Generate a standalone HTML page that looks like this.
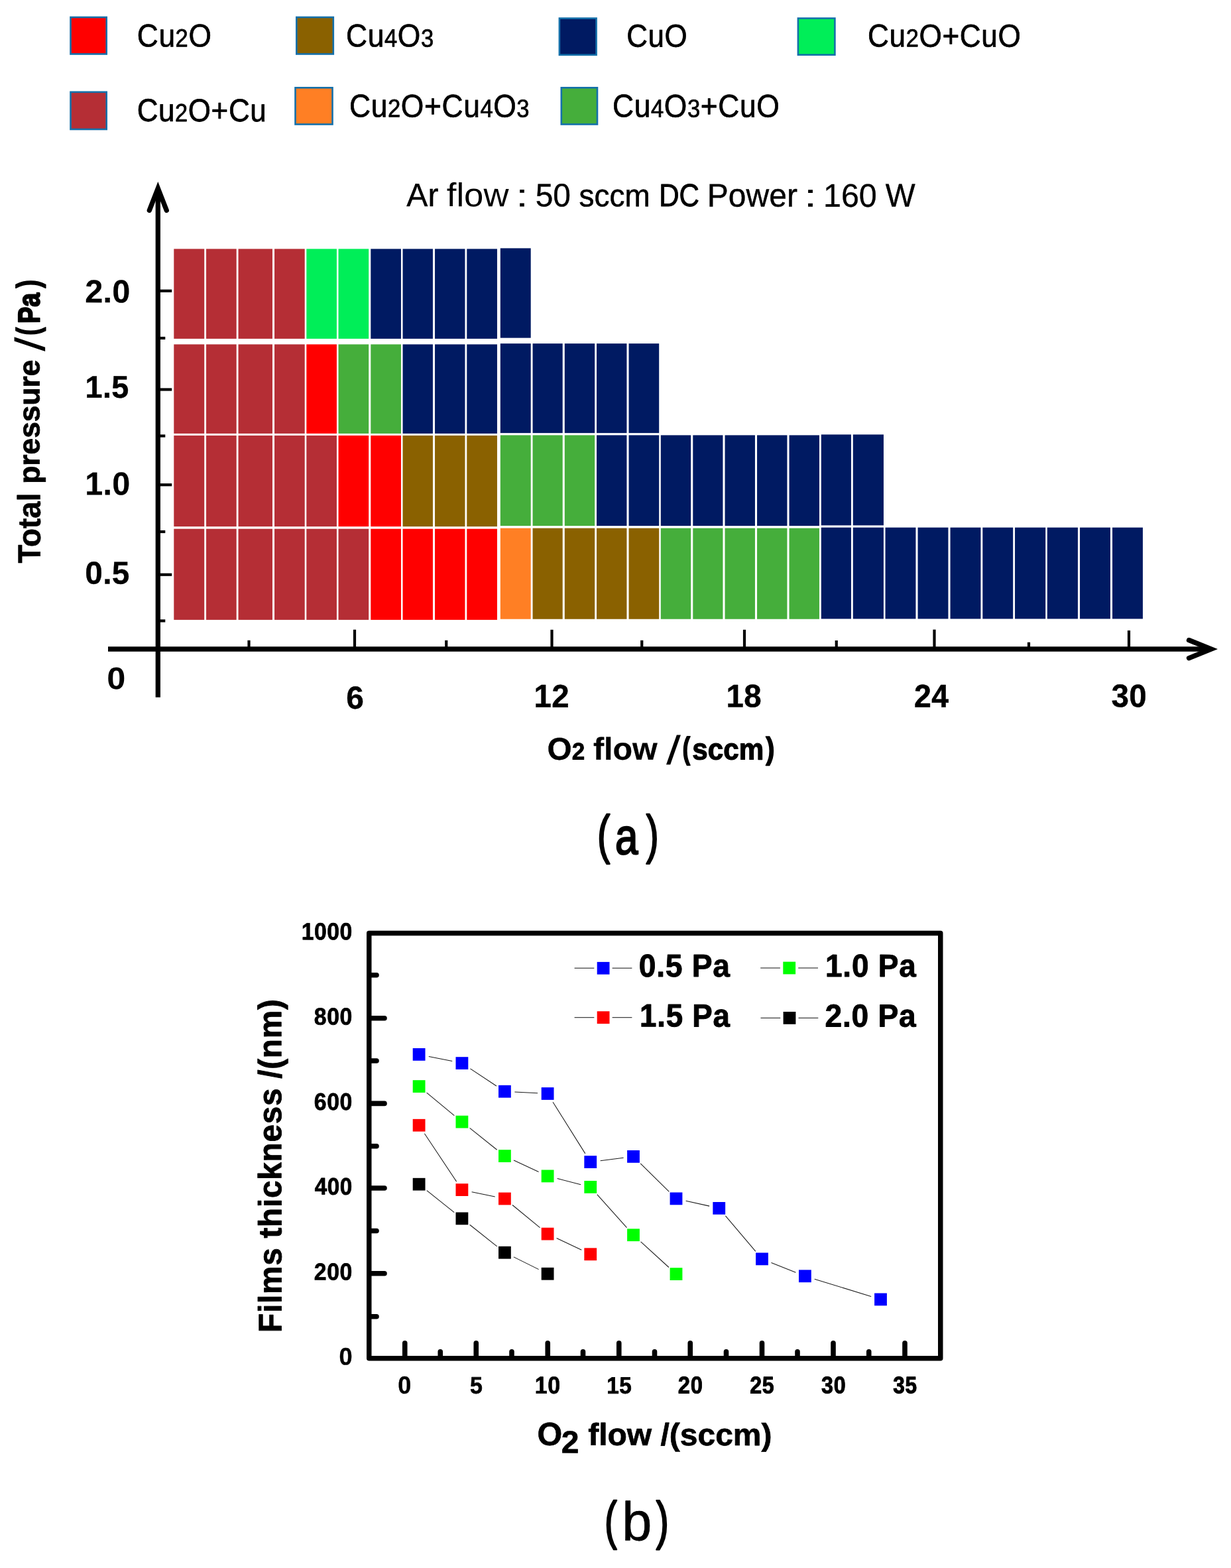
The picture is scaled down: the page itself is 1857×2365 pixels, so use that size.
<!DOCTYPE html>
<html lang="en"><head><meta charset="utf-8"><title>Phase diagram and film thickness</title>
<style>html,body{margin:0;padding:0;background:#fff}body{width:1857px;height:2365px}svg{display:block}</style></head>
<body>
<svg width="1857" height="2365" viewBox="0 0 1857 2365" role="img" aria-label="Phase map of copper oxide films and film thickness versus oxygen flow" font-family='"Liberation Sans", sans-serif' fill="#000" text-rendering="geometricPrecision">
<rect width="1857" height="2365" fill="#fff"/>
<g id="legend-a">
<rect x="106.50" y="26.00" width="54.20" height="55.50" fill="#ff0000" stroke="#1470aa" stroke-width="2.6"/>
<rect x="447.30" y="26.00" width="55.50" height="55.50" fill="#8a6100" stroke="#1470aa" stroke-width="2.6"/>
<rect x="843.90" y="27.60" width="55.70" height="55.20" fill="#001a62" stroke="#1470aa" stroke-width="2.6"/>
<rect x="1203.90" y="27.60" width="55.50" height="55.10" fill="#00ee58" stroke="#1470aa" stroke-width="2.6"/>
<rect x="106.50" y="138.80" width="54.20" height="56.20" fill="#b52e35" stroke="#1470aa" stroke-width="2.6"/>
<rect x="445.50" y="132.30" width="56.00" height="55.20" fill="#ff7f24" stroke="#1470aa" stroke-width="2.6"/>
<rect x="846.80" y="132.30" width="54.20" height="55.20" fill="#45ae3b" stroke="#1470aa" stroke-width="2.6"/>
</g>
<g id="phase-map" shape-rendering="geometricPrecision">
<rect x="262.30" y="375.40" width="45.90" height="135.50" fill="#b52e35"/>
<rect x="311.05" y="375.40" width="45.65" height="135.50" fill="#b52e35"/>
<rect x="359.55" y="375.40" width="51.40" height="135.50" fill="#b52e35"/>
<rect x="414.05" y="375.40" width="45.65" height="135.50" fill="#b52e35"/>
<rect x="462.30" y="375.40" width="45.65" height="135.50" fill="#00ee58"/>
<rect x="510.55" y="375.40" width="45.65" height="135.50" fill="#00ee58"/>
<rect x="559.30" y="375.40" width="45.65" height="135.50" fill="#001a62"/>
<rect x="607.55" y="375.40" width="45.40" height="135.50" fill="#001a62"/>
<rect x="656.05" y="375.40" width="45.40" height="135.50" fill="#001a62"/>
<rect x="704.30" y="375.40" width="45.65" height="135.50" fill="#001a62"/>
<rect x="754.80" y="374.40" width="45.90" height="135.25" fill="#001a62"/>
<rect x="262.30" y="519.40" width="45.90" height="134.50" fill="#b52e35"/>
<rect x="311.05" y="519.40" width="45.65" height="134.50" fill="#b52e35"/>
<rect x="359.55" y="519.40" width="51.40" height="134.50" fill="#b52e35"/>
<rect x="414.05" y="519.40" width="45.65" height="134.50" fill="#b52e35"/>
<rect x="462.30" y="519.40" width="45.65" height="134.50" fill="#ff0000"/>
<rect x="510.55" y="519.40" width="45.65" height="134.50" fill="#45ae3b"/>
<rect x="559.30" y="519.40" width="45.65" height="134.50" fill="#45ae3b"/>
<rect x="607.55" y="519.40" width="45.40" height="134.50" fill="#001a62"/>
<rect x="656.05" y="519.40" width="45.40" height="134.50" fill="#001a62"/>
<rect x="704.30" y="519.40" width="45.65" height="134.50" fill="#001a62"/>
<rect x="754.80" y="518.15" width="45.90" height="135.00" fill="#001a62"/>
<rect x="803.55" y="518.15" width="45.15" height="135.00" fill="#001a62"/>
<rect x="851.80" y="518.15" width="45.40" height="135.00" fill="#001a62"/>
<rect x="900.05" y="518.15" width="45.40" height="135.00" fill="#001a62"/>
<rect x="948.55" y="518.15" width="45.65" height="135.00" fill="#001a62"/>
<rect x="262.30" y="656.90" width="45.90" height="137.25" fill="#b52e35"/>
<rect x="311.05" y="656.90" width="45.65" height="137.25" fill="#b52e35"/>
<rect x="359.55" y="656.90" width="51.40" height="137.25" fill="#b52e35"/>
<rect x="414.05" y="656.90" width="45.65" height="137.25" fill="#b52e35"/>
<rect x="462.30" y="656.90" width="45.65" height="137.25" fill="#b52e35"/>
<rect x="510.55" y="656.90" width="45.65" height="137.25" fill="#ff0000"/>
<rect x="559.30" y="656.90" width="45.65" height="137.25" fill="#ff0000"/>
<rect x="607.55" y="656.90" width="45.40" height="137.25" fill="#8a6100"/>
<rect x="656.05" y="656.90" width="45.40" height="137.25" fill="#8a6100"/>
<rect x="704.30" y="656.90" width="45.65" height="137.25" fill="#8a6100"/>
<rect x="754.80" y="656.40" width="45.90" height="136.75" fill="#45ae3b"/>
<rect x="803.55" y="656.40" width="45.15" height="136.75" fill="#45ae3b"/>
<rect x="851.80" y="656.40" width="45.40" height="136.75" fill="#45ae3b"/>
<rect x="900.05" y="656.40" width="45.40" height="136.75" fill="#001a62"/>
<rect x="948.55" y="656.40" width="45.65" height="136.75" fill="#001a62"/>
<rect x="996.80" y="656.40" width="45.40" height="136.75" fill="#001a62"/>
<rect x="1045.30" y="656.40" width="45.15" height="136.75" fill="#001a62"/>
<rect x="1093.55" y="656.40" width="45.40" height="136.75" fill="#001a62"/>
<rect x="1142.05" y="656.40" width="45.40" height="136.75" fill="#001a62"/>
<rect x="1190.55" y="656.40" width="45.40" height="136.75" fill="#001a62"/>
<rect x="1238.80" y="655.40" width="45.15" height="137.00" fill="#001a62"/>
<rect x="1286.80" y="655.40" width="46.15" height="137.00" fill="#001a62"/>
<rect x="262.30" y="797.65" width="45.90" height="137.25" fill="#b52e35"/>
<rect x="311.05" y="797.65" width="45.65" height="137.25" fill="#b52e35"/>
<rect x="359.55" y="797.65" width="51.40" height="137.25" fill="#b52e35"/>
<rect x="414.05" y="797.65" width="45.65" height="137.25" fill="#b52e35"/>
<rect x="462.30" y="797.65" width="45.65" height="137.25" fill="#b52e35"/>
<rect x="510.55" y="797.65" width="45.65" height="137.25" fill="#b52e35"/>
<rect x="559.30" y="797.65" width="45.65" height="137.25" fill="#ff0000"/>
<rect x="607.55" y="797.65" width="45.40" height="137.25" fill="#ff0000"/>
<rect x="656.05" y="797.65" width="45.40" height="137.25" fill="#ff0000"/>
<rect x="704.30" y="797.65" width="45.65" height="137.25" fill="#ff0000"/>
<rect x="754.80" y="796.65" width="45.90" height="137.10" fill="#ff7f24"/>
<rect x="803.55" y="796.65" width="45.15" height="137.10" fill="#8a6100"/>
<rect x="851.80" y="796.65" width="45.40" height="137.10" fill="#8a6100"/>
<rect x="900.05" y="796.65" width="45.40" height="137.10" fill="#8a6100"/>
<rect x="948.55" y="796.65" width="45.65" height="137.10" fill="#8a6100"/>
<rect x="996.80" y="796.65" width="45.40" height="137.10" fill="#45ae3b"/>
<rect x="1045.30" y="796.65" width="45.15" height="137.10" fill="#45ae3b"/>
<rect x="1093.55" y="796.65" width="45.40" height="137.10" fill="#45ae3b"/>
<rect x="1142.05" y="796.65" width="45.40" height="137.10" fill="#45ae3b"/>
<rect x="1190.55" y="796.65" width="45.40" height="137.10" fill="#45ae3b"/>
<rect x="1238.80" y="795.65" width="45.15" height="137.75" fill="#001a62"/>
<rect x="1286.80" y="795.65" width="46.15" height="137.75" fill="#001a62"/>
<rect x="1335.55" y="795.65" width="45.90" height="137.75" fill="#001a62"/>
<rect x="1384.55" y="795.65" width="45.90" height="137.75" fill="#001a62"/>
<rect x="1433.55" y="795.65" width="45.90" height="137.75" fill="#001a62"/>
<rect x="1482.30" y="795.65" width="45.90" height="137.75" fill="#001a62"/>
<rect x="1531.05" y="795.65" width="46.15" height="137.75" fill="#001a62"/>
<rect x="1579.80" y="795.65" width="46.15" height="137.75" fill="#001a62"/>
<rect x="1629.05" y="795.65" width="45.90" height="137.75" fill="#001a62"/>
<rect x="1678.05" y="795.65" width="45.90" height="137.75" fill="#001a62"/>
</g>
<g id="axes-a" stroke="#000" fill="none">
<line x1="238.30" y1="286.00" x2="238.30" y2="1051.75" stroke-width="7.30"/>
<line x1="163.00" y1="979.00" x2="1825.00" y2="979.00" stroke-width="7.30"/>
<polyline points="225.30,317.30 238.30,284.00 251.30,317.30" stroke-width="7.30" stroke-linecap="round" stroke-linejoin="miter" stroke-miterlimit="10"/>
<polyline points="1793.60,965.60 1827.00,979.00 1793.60,992.60" stroke-width="7.50" stroke-linecap="round" stroke-linejoin="miter" stroke-miterlimit="10"/>
<line x1="238.30" y1="438.75" x2="259.20" y2="438.75" stroke-width="4.20"/>
<line x1="238.30" y1="587.50" x2="259.20" y2="587.50" stroke-width="4.20"/>
<line x1="238.30" y1="731.25" x2="259.20" y2="731.25" stroke-width="4.20"/>
<line x1="238.30" y1="866.75" x2="259.20" y2="866.75" stroke-width="4.20"/>
<line x1="238.30" y1="510.00" x2="249.30" y2="510.00" stroke-width="4.20"/>
<line x1="238.30" y1="657.50" x2="249.30" y2="657.50" stroke-width="4.20"/>
<line x1="238.30" y1="802.00" x2="249.30" y2="802.00" stroke-width="4.20"/>
<line x1="238.30" y1="936.40" x2="249.30" y2="936.40" stroke-width="4.20"/>
<line x1="535.00" y1="949.70" x2="535.00" y2="979.00" stroke-width="4.20"/>
<line x1="832.50" y1="949.80" x2="832.50" y2="979.00" stroke-width="4.20"/>
<line x1="1123.00" y1="949.80" x2="1123.00" y2="979.00" stroke-width="4.20"/>
<line x1="1409.50" y1="949.60" x2="1409.50" y2="979.00" stroke-width="4.20"/>
<line x1="1703.00" y1="950.90" x2="1703.00" y2="979.00" stroke-width="4.20"/>
<line x1="375.50" y1="965.80" x2="375.50" y2="979.00" stroke-width="4.20"/>
<line x1="673.25" y1="965.80" x2="673.25" y2="979.00" stroke-width="4.20"/>
<line x1="968.25" y1="965.80" x2="968.25" y2="979.00" stroke-width="4.20"/>
<line x1="1261.75" y1="966.00" x2="1261.75" y2="979.00" stroke-width="4.20"/>
<line x1="1552.00" y1="968.70" x2="1552.00" y2="979.00" stroke-width="4.20"/>
</g>
<g id="chart-b">
<rect x="556.75" y="1407.50" width="862.00" height="641.25" fill="none" stroke="#000" stroke-width="7.50" stroke-linejoin="round"/>
<g stroke="#000" stroke-width="7.60" stroke-linecap="round">
<line x1="557.35" y1="1535.75" x2="580.00" y2="1535.75"/>
<line x1="557.35" y1="1664.40" x2="580.00" y2="1664.40"/>
<line x1="557.35" y1="1792.00" x2="580.00" y2="1792.00"/>
<line x1="557.35" y1="1920.75" x2="580.00" y2="1920.75"/>
<line x1="557.35" y1="1470.75" x2="568.00" y2="1470.75"/>
<line x1="557.35" y1="1600.00" x2="568.00" y2="1600.00"/>
<line x1="557.35" y1="1728.75" x2="568.00" y2="1728.75"/>
<line x1="557.35" y1="1856.50" x2="568.00" y2="1856.50"/>
<line x1="557.35" y1="1985.75" x2="568.00" y2="1985.75"/>
<line x1="610.75" y1="2048.15" x2="610.75" y2="2025.80"/>
<line x1="718.25" y1="2048.15" x2="718.25" y2="2025.80"/>
<line x1="826.25" y1="2048.15" x2="826.25" y2="2025.80"/>
<line x1="933.75" y1="2048.15" x2="933.75" y2="2025.80"/>
<line x1="1041.25" y1="2048.15" x2="1041.25" y2="2025.80"/>
<line x1="1149.50" y1="2048.15" x2="1149.50" y2="2025.80"/>
<line x1="1257.00" y1="2048.15" x2="1257.00" y2="2025.80"/>
<line x1="1365.00" y1="2048.15" x2="1365.00" y2="2025.80"/>
<line x1="664.25" y1="2048.15" x2="664.25" y2="2038.80"/>
<line x1="772.00" y1="2048.15" x2="772.00" y2="2038.80"/>
<line x1="879.50" y1="2048.15" x2="879.50" y2="2038.80"/>
<line x1="987.50" y1="2048.15" x2="987.50" y2="2038.80"/>
<line x1="1095.50" y1="2048.15" x2="1095.50" y2="2038.80"/>
<line x1="1203.00" y1="2048.15" x2="1203.00" y2="2038.80"/>
<line x1="1310.75" y1="2048.15" x2="1310.75" y2="2038.80"/>
</g>
<g stroke="#1a1a1a" stroke-width="1.05" fill="none">
<line x1="643.83" y1="1795.55" x2="685.17" y2="1828.55"/>
<line x1="708.64" y1="1847.24" x2="749.66" y2="1879.91"/>
<line x1="774.85" y1="1895.90" x2="812.65" y2="1914.60"/>
<line x1="640.41" y1="1709.74" x2="688.59" y2="1782.11"/>
<line x1="711.59" y1="1797.65" x2="746.71" y2="1804.95"/>
<line x1="772.99" y1="1817.52" x2="814.51" y2="1851.58"/>
<line x1="839.65" y1="1867.53" x2="877.20" y2="1885.32"/>
<line x1="643.67" y1="1648.15" x2="685.33" y2="1682.55"/>
<line x1="708.62" y1="1701.46" x2="749.68" y2="1734.24"/>
<line x1="774.98" y1="1749.96" x2="812.52" y2="1767.54"/>
<line x1="840.63" y1="1777.61" x2="876.22" y2="1786.69"/>
<line x1="900.75" y1="1801.58" x2="945.50" y2="1851.57"/>
<line x1="966.58" y1="1872.86" x2="1008.92" y2="1911.49"/>
<line x1="646.80" y1="1593.39" x2="682.20" y2="1600.61"/>
<line x1="709.41" y1="1611.87" x2="748.89" y2="1637.98"/>
<line x1="776.38" y1="1647.00" x2="811.12" y2="1648.75"/>
<line x1="834.07" y1="1662.21" x2="882.78" y2="1739.89"/>
<line x1="905.63" y1="1750.72" x2="940.62" y2="1746.28"/>
<line x1="966.19" y1="1754.92" x2="1009.31" y2="1797.38"/>
<line x1="1034.64" y1="1811.18" x2="1070.11" y2="1819.12"/>
<line x1="1094.44" y1="1833.85" x2="1139.81" y2="1887.45"/>
<line x1="1163.44" y1="1904.45" x2="1200.46" y2="1919.20"/>
<line x1="1228.74" y1="1929.17" x2="1314.16" y2="1955.48"/>
<line x1="866.60" y1="1460.20" x2="896.30" y2="1460.20"/>
<line x1="923.60" y1="1460.20" x2="953.40" y2="1460.20"/>
<line x1="1147.20" y1="1460.00" x2="1176.90" y2="1460.00"/>
<line x1="1204.20" y1="1460.00" x2="1234.00" y2="1460.00"/>
<line x1="866.60" y1="1534.70" x2="896.30" y2="1534.70"/>
<line x1="923.60" y1="1534.70" x2="953.40" y2="1534.70"/>
<line x1="1147.50" y1="1535.40" x2="1177.20" y2="1535.40"/>
<line x1="1204.50" y1="1535.40" x2="1234.30" y2="1535.40"/>
</g>
<rect x="622.70" y="1776.80" width="18.80" height="18.80" fill="#000000"/>
<rect x="687.50" y="1828.50" width="18.80" height="18.80" fill="#000000"/>
<rect x="752.00" y="1879.85" width="18.80" height="18.80" fill="#000000"/>
<rect x="816.70" y="1911.85" width="18.80" height="18.80" fill="#000000"/>
<rect x="622.70" y="1687.85" width="18.80" height="18.80" fill="#ff0000"/>
<rect x="687.50" y="1785.20" width="18.80" height="18.80" fill="#ff0000"/>
<rect x="752.00" y="1798.60" width="18.80" height="18.80" fill="#ff0000"/>
<rect x="816.70" y="1851.70" width="18.80" height="18.80" fill="#ff0000"/>
<rect x="881.35" y="1882.35" width="18.80" height="18.80" fill="#ff0000"/>
<rect x="622.70" y="1629.20" width="18.80" height="18.80" fill="#00ff00"/>
<rect x="687.50" y="1682.70" width="18.80" height="18.80" fill="#00ff00"/>
<rect x="752.00" y="1734.20" width="18.80" height="18.80" fill="#00ff00"/>
<rect x="816.70" y="1764.50" width="18.80" height="18.80" fill="#00ff00"/>
<rect x="881.35" y="1781.00" width="18.80" height="18.80" fill="#00ff00"/>
<rect x="946.10" y="1853.35" width="18.80" height="18.80" fill="#00ff00"/>
<rect x="1010.60" y="1912.20" width="18.80" height="18.80" fill="#00ff00"/>
<rect x="622.70" y="1581.00" width="18.80" height="18.80" fill="#0000ff"/>
<rect x="687.50" y="1594.20" width="18.80" height="18.80" fill="#0000ff"/>
<rect x="752.00" y="1636.85" width="18.80" height="18.80" fill="#0000ff"/>
<rect x="816.70" y="1640.10" width="18.80" height="18.80" fill="#0000ff"/>
<rect x="881.35" y="1743.20" width="18.80" height="18.80" fill="#0000ff"/>
<rect x="946.10" y="1735.00" width="18.80" height="18.80" fill="#0000ff"/>
<rect x="1010.60" y="1798.50" width="18.80" height="18.80" fill="#0000ff"/>
<rect x="1075.35" y="1813.00" width="18.80" height="18.80" fill="#0000ff"/>
<rect x="1140.10" y="1889.50" width="18.80" height="18.80" fill="#0000ff"/>
<rect x="1205.00" y="1915.35" width="18.80" height="18.80" fill="#0000ff"/>
<rect x="1319.10" y="1950.50" width="18.80" height="18.80" fill="#0000ff"/>
<rect x="900.70" y="1450.90" width="18.80" height="18.80" fill="#0000ff"/>
<rect x="1181.30" y="1450.60" width="18.80" height="18.80" fill="#00ff00"/>
<rect x="900.70" y="1525.30" width="18.80" height="18.80" fill="#ff0000"/>
<rect x="1181.60" y="1526.00" width="18.80" height="18.80" fill="#000000"/>
</g>

<g id="labels" stroke="#000" stroke-width="0" stroke-linejoin="round">
<text transform="translate(263.00,71.20) rotate(0.05) scale(0.9173,1)" font-size="48.27" x="-61.22" y="-0.88" stroke-width="0.77" letter-spacing="0.65">Cu<tspan font-size="37.65">2</tspan>O</text>
<text transform="translate(588.50,71.20) rotate(0.05) scale(0.9194,1)" font-size="48.29" x="-72.24" y="-0.87" stroke-width="0.75" letter-spacing="0.64">Cu<tspan font-size="37.67">4</tspan>O<tspan font-size="37.67">3</tspan></text>
<text transform="translate(991.00,71.30) rotate(0.05) scale(0.9132,1)" font-size="48.07" x="-50.23" y="-0.89" stroke-width="0.81" letter-spacing="0.69">CuO</text>
<text transform="translate(1424.50,71.30) rotate(0.05) scale(0.9173,1)" font-size="48.11" x="-125.79" y="-0.88" stroke-width="0.78" letter-spacing="0.66">Cu<tspan font-size="37.53">2</tspan>O+CuO</text>
<text transform="translate(303.90,183.80) rotate(0.05) scale(0.9120,1)" font-size="48.22" x="-106.66" y="-0.89" stroke-width="0.80" letter-spacing="0.68">Cu<tspan font-size="37.62">2</tspan>O+Cu</text>
<text transform="translate(663.20,177.30) rotate(0.05) scale(0.9167,1)" font-size="48.43" x="-148.49" y="-0.87" stroke-width="0.76" letter-spacing="0.64">Cu<tspan font-size="37.77">2</tspan>O+Cu<tspan font-size="37.77">4</tspan>O<tspan font-size="37.77">3</tspan></text>
<text transform="translate(1050.00,177.30) rotate(0.05) scale(0.9168,1)" font-size="48.43" x="-137.35" y="-0.87" stroke-width="0.76" letter-spacing="0.64">Cu<tspan font-size="37.77">4</tspan>O<tspan font-size="37.77">3</tspan>+CuO</text>
<text transform="translate(997.00,312.10) rotate(0.05)"><tspan x="-383.66" y="-0.79" font-size="49.25" textLength="48.12" lengthAdjust="spacingAndGlyphs" stroke-width="0.37">Ar</tspan> <tspan x="-323.21" y="-0.71" font-size="49.95" textLength="93.59" lengthAdjust="spacingAndGlyphs">flow</tspan> <tspan x="-219.24" y="-0.50" font-size="48.33" textLength="19.51" lengthAdjust="spacingAndGlyphs">:</tspan> <tspan x="-189.36" y="-0.70" font-size="48.93" textLength="53.23" lengthAdjust="spacingAndGlyphs" stroke-width="0.40">50</tspan> <tspan x="-123.53" y="-0.77" font-size="47.31" textLength="107.17" lengthAdjust="spacingAndGlyphs" stroke-width="0.57">sccm</tspan> <tspan x="-2.88" y="-1.01" font-size="48.04" textLength="60.66" lengthAdjust="spacingAndGlyphs" stroke-width="1.03">DC</tspan> <tspan x="69.87" y="-0.70" font-size="49.23" textLength="136.01" lengthAdjust="spacingAndGlyphs" stroke-width="0.39">Power</tspan> <tspan x="215.57" y="-0.50" font-size="48.33" textLength="20.08" lengthAdjust="spacingAndGlyphs">:</tspan> <tspan x="244.96" y="-0.67" font-size="49.15" textLength="80.87" lengthAdjust="spacingAndGlyphs" stroke-width="0.34">160</tspan> <tspan x="338.87" y="-0.82" font-size="49.17" textLength="44.87" lengthAdjust="spacingAndGlyphs" stroke-width="0.43">W</tspan></text>
<text transform="translate(162.10,456.90) rotate(0.05) scale(1.0015,1)" font-weight="bold" font-size="48.58" x="-33.89" y="-0.63" stroke-width="0.23" letter-spacing="0.20">2.0</text>
<text transform="translate(162.20,600.50) rotate(0.05) scale(0.9911,1)" font-weight="bold" font-size="47.05" x="-33.92" y="-0.76" stroke-width="0.52" letter-spacing="0.44">1.5</text>
<text transform="translate(162.90,746.90) rotate(0.05) scale(0.9929,1)" font-weight="bold" font-size="48.82" x="-34.81" y="-0.65" stroke-width="0.26" letter-spacing="0.22">1.0</text>
<text transform="translate(162.00,881.10) rotate(0.05) scale(0.9989,1)" font-weight="bold" font-size="47.84" x="-33.79" y="-0.69" stroke-width="0.35" letter-spacing="0.30">0.5</text>
<text transform="translate(175.20,1039.85) rotate(0.05) scale(1.0772,1)" font-weight="bold" font-size="46.93" x="-13.03" y="-0.50">0</text>
<text transform="translate(535.60,1069.45) rotate(0.05) scale(0.9967,1)" font-weight="bold" font-size="47.99" x="-13.40" y="-0.68" stroke-width="0.35">6</text>
<text transform="translate(832.60,1066.85) rotate(0.05) scale(0.9718,1)" font-weight="bold" font-size="48.77" x="-27.91" y="-0.21" stroke-width="0.42" letter-spacing="0.36">12</text>
<text transform="translate(1122.80,1066.95) rotate(0.05) scale(0.9818,1)" font-weight="bold" font-size="48.33" x="-27.84" y="-0.72" stroke-width="0.41" letter-spacing="0.35">18</text>
<text transform="translate(1405.80,1066.85) rotate(0.05) scale(0.9526,1)" font-weight="bold" font-size="48.69" x="-28.03" y="-0.29" stroke-width="0.57" letter-spacing="0.49">24</text>
<text transform="translate(1702.60,1066.85) rotate(0.05) scale(0.9836,1)" font-weight="bold" font-size="48.36" x="-26.56" y="-0.71" stroke-width="0.39" letter-spacing="0.33">30</text>
<text transform="translate(69.80,636.30) rotate(-90.05)" font-weight="bold"><tspan x="-213.26" y="-9.31" font-size="47.98" textLength="106.15" lengthAdjust="spacingAndGlyphs" stroke-width="0.65">Total</tspan> <tspan x="-93.52" y="-10.28" font-size="44.75" textLength="187.21" lengthAdjust="spacingAndGlyphs" stroke-width="0.84">pressure</tspan> <tspan x="106.30" y="-2.11" font-size="63.36" textLength="21.68" lengthAdjust="spacingAndGlyphs" font-weight="normal">/</tspan><tspan x="130.65" y="-10.86" font-size="48.09" textLength="12.10" lengthAdjust="spacingAndGlyphs" stroke-width="1.60">(</tspan><tspan x="148.59" y="-10.14" font-size="45.85" textLength="45.89" lengthAdjust="spacingAndGlyphs" stroke-width="2.15">Pa</tspan><tspan x="201.84" y="-10.86" font-size="48.09" textLength="12.63" lengthAdjust="spacingAndGlyphs" stroke-width="1.60">)</tspan></text>
<text transform="translate(997.20,1155.00) rotate(0.05)" font-weight="bold"><tspan x="-171.76" y="-9.18" font-size="47.42" textLength="37.18" lengthAdjust="spacingAndGlyphs" stroke-width="0.35">O</tspan><tspan x="-134.42" y="-9.51" font-size="35.84" textLength="19.51" lengthAdjust="spacingAndGlyphs" stroke-width="0.81">2</tspan> <tspan x="-102.23" y="-9.14" font-size="47.45" textLength="96.68" lengthAdjust="spacingAndGlyphs" stroke-width="0.27">flow</tspan> <tspan x="7.70" y="-2.31" font-size="60.95" textLength="21.90" lengthAdjust="spacingAndGlyphs" font-weight="normal">/</tspan><tspan x="32.42" y="-10.47" font-size="46.62" textLength="11.69" lengthAdjust="spacingAndGlyphs" stroke-width="1.60">(</tspan><tspan x="47.09" y="-9.58" font-size="45.26" textLength="107.92" lengthAdjust="spacingAndGlyphs" stroke-width="1.20">sccm</tspan><tspan x="158.07" y="-10.47" font-size="46.62" textLength="13.18" lengthAdjust="spacingAndGlyphs" stroke-width="1.60">)</tspan></text>
<text transform="translate(947.50,1304.20) rotate(0.05)"><tspan x="-46.40" y="-17.92" font-size="80.43" textLength="19.28" lengthAdjust="spacingAndGlyphs" stroke-width="2.40">(</tspan><tspan x="-19.54" y="-16.09" font-size="76.43" textLength="34.41" lengthAdjust="spacingAndGlyphs" stroke-width="2.40">a</tspan><tspan x="27.30" y="-17.92" font-size="80.43" textLength="18.86" lengthAdjust="spacingAndGlyphs" stroke-width="2.40">)</tspan></text>
<text transform="translate(493.30,1417.80) rotate(0.05) scale(0.9353,1)" font-weight="bold" font-size="36.03" x="-41.34" y="-0.62" stroke-width="0.73" letter-spacing="0.62">1000</text>
<text transform="translate(502.50,1546.05) rotate(0.05) scale(0.9365,1)" font-weight="bold" font-size="36.04" x="-30.58" y="-0.61" stroke-width="0.72" letter-spacing="0.61">800</text>
<text transform="translate(502.50,1674.70) rotate(0.05) scale(0.9365,1)" font-weight="bold" font-size="36.04" x="-30.58" y="-0.61" stroke-width="0.72" letter-spacing="0.61">600</text>
<text transform="translate(502.50,1802.30) rotate(0.05) scale(0.9242,1)" font-weight="bold" font-size="35.91" x="-30.17" y="-0.66" stroke-width="0.82" letter-spacing="0.69">400</text>
<text transform="translate(502.50,1931.05) rotate(0.05) scale(0.9365,1)" font-weight="bold" font-size="36.04" x="-30.58" y="-0.61" stroke-width="0.72" letter-spacing="0.61">200</text>
<text transform="translate(521.50,2059.05) rotate(0.05) scale(0.9874,1)" font-weight="bold" font-size="36.56" x="-10.15" y="-0.43" stroke-width="0.36">0</text>
<text transform="translate(610.30,2102.30) rotate(0.05) scale(0.9761,1)" font-weight="bold" font-size="36.98" x="-10.27" y="-0.44" stroke-width="0.36">0</text>
<text transform="translate(718.50,2102.30) rotate(0.05) scale(0.9507,1)" font-weight="bold" font-size="35.74" x="-10.11" y="-0.59" stroke-width="0.68">5</text>
<text transform="translate(826.30,2102.30) rotate(0.05) scale(0.9305,1)" font-weight="bold" font-size="36.51" x="-20.96" y="-0.60" stroke-width="0.69" letter-spacing="0.59">10</text>
<text transform="translate(934.60,2102.30) rotate(0.05) scale(0.9370,1)" font-weight="bold" font-size="35.60" x="-20.73" y="-0.64" stroke-width="0.78" letter-spacing="0.66">15</text>
<text transform="translate(1041.30,2102.30) rotate(0.05) scale(0.9046,1)" font-weight="bold" font-size="36.22" x="-20.38" y="-0.70" stroke-width="0.90" letter-spacing="0.76">20</text>
<text transform="translate(1149.50,2102.30) rotate(0.05) scale(0.8923,1)" font-weight="bold" font-size="36.07" x="-20.59" y="-0.75" stroke-width="1.00" letter-spacing="0.85">25</text>
<text transform="translate(1257.00,2102.30) rotate(0.05) scale(0.9008,1)" font-weight="bold" font-size="35.73" x="-19.90" y="-0.99" stroke-width="0.99" letter-spacing="0.84">30</text>
<text transform="translate(1365.00,2102.30) rotate(0.05) scale(0.8888,1)" font-weight="bold" font-size="35.60" x="-20.11" y="-1.04" stroke-width="1.09" letter-spacing="0.92">35</text>
<text transform="translate(1033.40,1474.00) rotate(0.05) scale(0.9640,1)" font-weight="bold" font-size="47.91" x="-72.29" y="-0.96" stroke-width="0.91" letter-spacing="0.77">0.5 Pa</text>
<text transform="translate(1315.00,1474.00) rotate(0.05) scale(0.9599,1)" font-weight="bold" font-size="47.86" x="-72.90" y="-0.98" stroke-width="0.94" letter-spacing="0.80">1.0 Pa</text>
<text transform="translate(1034.60,1549.40) rotate(0.05) scale(0.9402,1)" font-weight="bold" font-size="48.48" x="-73.96" y="-1.02" stroke-width="1.02" letter-spacing="0.86">1.5 Pa</text>
<text transform="translate(1314.10,1549.40) rotate(0.05) scale(0.9640,1)" font-weight="bold" font-size="47.91" x="-72.24" y="-0.96" stroke-width="0.91" letter-spacing="0.77">2.0 Pa</text>
<text transform="translate(987.20,2191.75) rotate(0.05)" font-weight="bold"><tspan x="-176.84" y="-11.79" font-size="48.82" textLength="37.65" lengthAdjust="spacingAndGlyphs" stroke-width="0.68">O</tspan><tspan x="-140.55" y="-0.36" font-size="47.27" textLength="26.72" lengthAdjust="spacingAndGlyphs" stroke-width="0.71">2</tspan> <tspan x="-100.07" y="-11.92" font-size="46.90" textLength="277.38" lengthAdjust="spacingAndGlyphs" stroke-width="0.71">flow /(sccm)</tspan></text>
<text transform="translate(435.00,1758.20) rotate(-90.05) scale(0.9750,1)" font-weight="bold" font-size="48.97" x="-258.19" y="-10.68" stroke-width="0.88" letter-spacing="0.75">Films thickness /(nm)</text>
<text transform="translate(960.40,2338.40) rotate(0.05)"><tspan x="-48.30" y="-17.74" font-size="79.57" textLength="18.69" lengthAdjust="spacingAndGlyphs" stroke-width="2.40">(</tspan><tspan x="-22.20" y="-15.18" font-size="82.22" textLength="45.11" lengthAdjust="spacingAndGlyphs" stroke-width="0.67">b</tspan><tspan x="29.22" y="-17.74" font-size="79.57" textLength="19.06" lengthAdjust="spacingAndGlyphs" stroke-width="2.40">)</tspan></text>
</g>
</svg>
</body></html>
